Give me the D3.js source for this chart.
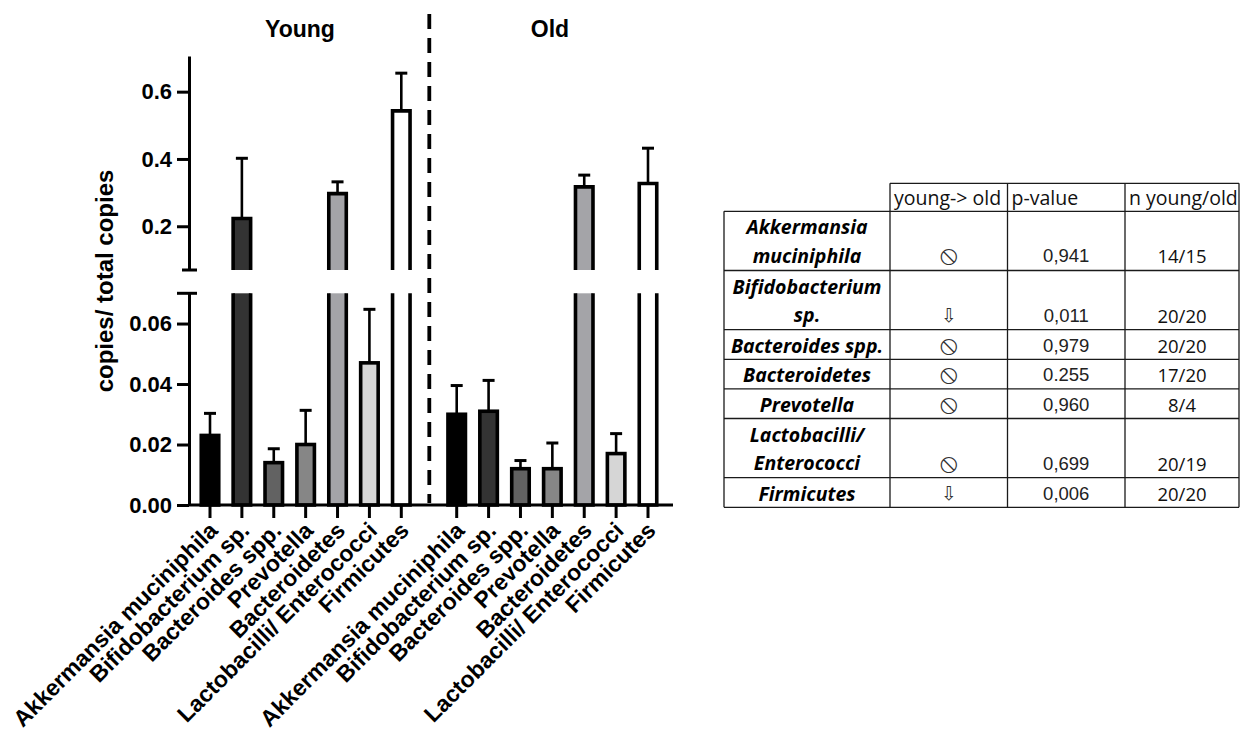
<!DOCTYPE html>
<html>
<head>
<meta charset="utf-8">
<script src="https://cdn.jsdelivr.net/npm/d3@7"></script>
<style>
  html, body { margin: 0; padding: 0; background: #ffffff; }
  svg { display: block; }
  .axis text { font-family: "Liberation Sans", Arial, sans-serif; font-weight: bold; font-size: 22px; fill: #000; }
</style>
</head>
<body>
<svg id="chart" width="1245" height="738"></svg>
<script>
// ---- data ----
const categories = [
  "Akkermansia muciniphila", "Bifidobacterium sp.", "Bacteroides spp.",
  "Prevotella", "Bacteroidetes", "Lactobacilli/ Enterococci", "Firmicutes"
];
const groups = ["Young", "Old"];
const youngMean = [0.023, 0.223, 0.014, 0.020, 0.297, 0.047, 0.543];
const youngErr  = [0.0073, 0.179, 0.0046, 0.0113, 0.035, 0.0177, 0.112];
const oldMean   = [0.030, 0.031, 0.012, 0.012, 0.317, 0.017, 0.327];
const oldErr    = [0.0095, 0.0102, 0.0027, 0.0085, 0.035, 0.0066, 0.105];
const barColors = ["#000000", "#333333", "#626262", "#868686", "#a4a4a8", "#d6d6d6", "#ffffff"];
const lowTicks  = [0, 0.02, 0.04, 0.06];
const highTicks = [0.2, 0.4, 0.6];
const axisBreak = 0.07;

// summary table
const tableHeaders = ["young-> old", "p-value", "n young/old"];
const tableTaxa = [
  ["Akkermansia", "muciniphila"], ["Bifidobacterium", "sp."], ["Bacteroides spp."],
  ["Bacteroidetes"], ["Prevotella"], ["Lactobacilli/", "Enterococci"], ["Firmicutes"]
];
const trend   = ["none", "down", "none", "none", "none", "none", "down"];
const pValues = ["0,941", "0,011", "0,979", "0.255", "0,960", "0,699", "0,006"];
const nCounts = ["14/15", "20/20", "20/20", "17/20", "8/4", "20/19", "20/20"];
const trendSymbol = { none: "\u29B8", down: "\u21E9" };
const trendSize = { none: 27, down: 19 };

// ---- chart ----
const svg = d3.select("#chart");
const axisX = 189, baseY = 505;

// broken y axis: lower and upper segments
const yLow  = d3.scaleLinear().domain([0, axisBreak]).range([baseY, 293.3]);
const yHigh = d3.scaleLinear().domain([axisBreak, 0.706]).range([270, 56]);

// one point scale per group
const xYoung = d3.scalePoint().domain(categories).range([210, 401.3]);
const xOld   = d3.scalePoint().domain(categories).range([456.7, 648]);

const series = [
  { name: groups[0], x: xYoung, mean: youngMean, err: youngErr },
  { name: groups[1], x: xOld,   mean: oldMean,   err: oldErr }
];

const barW = 17.5, strokeW = 3.6, capW = 12;

const yOf = v => v <= axisBreak ? yLow(v) : yHigh(v);

series.forEach(s => {
  const g = svg.append("g");
  categories.forEach((c, i) => {
    const cx = s.x(c), v = s.mean[i], e = s.err[i];
    const x0 = cx - barW / 2, x1 = cx + barW / 2;
    // error bar (behind bar outline)
    const yTop = yOf(v), yErr = yOf(v + e);
    g.append("line").attr("x1", cx).attr("x2", cx).attr("y1", yTop).attr("y2", yErr)
      .attr("stroke", "#000").attr("stroke-width", 2.6);
    g.append("line").attr("x1", cx - capW / 2).attr("x2", cx + capW / 2).attr("y1", yErr).attr("y2", yErr)
      .attr("stroke", "#000").attr("stroke-width", 3);
    if (v <= axisBreak) {
      g.append("rect").attr("x", x0).attr("y", yLow(v)).attr("width", barW).attr("height", baseY - yLow(v))
        .attr("fill", barColors[i]).attr("stroke", "#000").attr("stroke-width", strokeW);
    } else {
      // lower part, open at the break
      const yb = yLow(axisBreak);
      g.append("rect").attr("x", x0).attr("y", yb).attr("width", barW).attr("height", baseY - yb)
        .attr("fill", barColors[i]);
      g.append("path").attr("d", `M${x0},${yb}V${baseY}H${x1}V${yb}`)
        .attr("fill", "none").attr("stroke", "#000").attr("stroke-width", strokeW);
      // upper part, open at the break
      const yt = yHigh(v), ybt = yHigh(axisBreak);
      g.append("rect").attr("x", x0).attr("y", yt).attr("width", barW).attr("height", ybt - yt)
        .attr("fill", barColors[i]);
      g.append("path").attr("d", `M${x0},${ybt}V${yt}H${x1}V${ybt}`)
        .attr("fill", "none").attr("stroke", "#000").attr("stroke-width", strokeW)
        .attr("stroke-linejoin", "miter");
    }
  });
});

// y axes
function styleAxis(sel) {
  sel.select(".domain").attr("stroke", "#000").attr("stroke-width", 3);
  sel.selectAll(".tick line").attr("stroke", "#000").attr("stroke-width", 3);
}
svg.append("g").attr("class", "axis").attr("transform", `translate(${axisX},0)`)
  .call(d3.axisLeft(yLow).tickValues(lowTicks).tickFormat(d3.format(".2f")).tickSize(12).tickSizeOuter(0).tickPadding(5))
  .call(styleAxis);
svg.append("g").attr("class", "axis").attr("transform", `translate(${axisX},0)`)
  .call(d3.axisLeft(yHigh).tickValues(highTicks).tickFormat(d3.format(".1f")).tickSize(12).tickSizeOuter(0).tickPadding(5))
  .call(styleAxis);
// break caps
[[yLow(axisBreak), 12, 8], [yHigh(axisBreak), 7, 8]].forEach(([y, l, r]) => {
  svg.append("line").attr("x1", axisX - l).attr("x2", axisX + r).attr("y1", y).attr("y2", y)
    .attr("stroke", "#000").attr("stroke-width", 3);
});

// x axis
svg.append("line").attr("x1", axisX).attr("x2", 673).attr("y1", baseY).attr("y2", baseY)
  .attr("stroke", "#000").attr("stroke-width", 3);
series.forEach(s => {
  const ax = svg.append("g");
  categories.forEach(c => {
    const cx = s.x(c);
    ax.append("line").attr("x1", cx).attr("x2", cx).attr("y1", baseY).attr("y2", baseY + 13)
      .attr("stroke", "#000").attr("stroke-width", 3);
    ax.append("text")
      .attr("transform", `translate(${cx + 9},${baseY + 27}) rotate(-45)`)
      .attr("text-anchor", "end")
      .style("font-family", '"Liberation Sans", Arial, sans-serif')
      .style("font-weight", "bold").style("font-size", "23px")
      .text(c);
  });
});

// group divider
svg.append("line").attr("x1", 429.3).attr("x2", 429.3).attr("y1", 14).attr("y2", 503)
  .attr("stroke", "#000").attr("stroke-width", 3.8).attr("stroke-dasharray", "15,9");

// group titles
[[groups[0], 300], [groups[1], 550]].forEach(([t, x]) => {
  svg.append("text").attr("x", x).attr("y", 37).attr("text-anchor", "middle")
    .style("font-family", '"Liberation Sans", Arial, sans-serif')
    .style("font-weight", "bold").style("font-size", "23px").text(t);
});

// y label
svg.append("text").attr("transform", "translate(113,281) rotate(-90)")
  .attr("text-anchor", "middle")
  .style("font-family", '"Liberation Sans", Arial, sans-serif')
  .style("font-weight", "bold").style("font-size", "24px")
  .text("copies/ total copies");

// ---- table ----
const colX = [724, 890, 1007.5, 1125, 1239];
const tableTop = 183.3, headerH = 28, lineH = 29.6;
const tg = svg.append("g");
const lineStyle = sel => sel.attr("stroke", "#1a1a1a").attr("stroke-width", 1.3);

// row boundaries
const rowTops = [];
let yCur = tableTop + headerH;
tableTaxa.forEach(t => { rowTops.push(yCur); yCur += lineH * t.length; });
const tableBottom = yCur;

// grid
tg.append("line").attr("x1", colX[1]).attr("x2", colX[4]).attr("y1", tableTop).attr("y2", tableTop).call(lineStyle);
tg.append("line").attr("x1", colX[0]).attr("x2", colX[4]).attr("y1", tableTop + headerH).attr("y2", tableTop + headerH).call(lineStyle);
rowTops.slice(1).concat([tableBottom]).forEach(y => {
  tg.append("line").attr("x1", colX[0]).attr("x2", colX[4]).attr("y1", y).attr("y2", y).call(lineStyle);
});
colX.forEach((x, i) => {
  tg.append("line").attr("x1", x).attr("x2", x)
    .attr("y1", i === 0 ? tableTop + headerH : tableTop).attr("y2", tableBottom).call(lineStyle);
});

tableHeaders.forEach((h, i) => {
  tg.append("text").attr("x", colX[i + 1] + 4).attr("y", tableTop + 22)
    .style("font-family", '"Open Sans", sans-serif').style("font-size", "19.5px").style("fill", "#111")
    .text(h);
});

tableTaxa.forEach((lines, r) => {
  const top = rowTops[r];
  const cx0 = (colX[0] + colX[1]) / 2;
  lines.forEach((ln, k) => {
    tg.append("text").attr("x", cx0).attr("y", top + 23 + k * 28.5).attr("text-anchor", "middle")
      .style("font-family", '"Open Sans", sans-serif').style("font-style", "italic")
      .style("font-weight", "bold").style("font-size", "19.5px").style("fill", "#000")
      .text(ln);
  });
  const by = top + 22 + (lines.length - 1) * 29;
  tg.append("text").attr("x", (colX[1] + colX[2]) / 2).attr("y", by + (trend[r] === "none" ? 2 : 0))
    .attr("text-anchor", "middle")
    .style("font-family", '"DejaVu Sans", sans-serif').style("font-size", trendSize[trend[r]] + "px")
    .style("fill", "#333")
    .text(trendSymbol[trend[r]]);
  tg.append("text").attr("x", (colX[2] + colX[3]) / 2).attr("y", by).attr("text-anchor", "middle")
    .style("font-family", '"Liberation Sans", Arial, sans-serif').style("font-size", "18.5px").style("fill", "#222")
    .text(pValues[r]);
  tg.append("text").attr("x", (colX[3] + colX[4]) / 2).attr("y", by + 1).attr("text-anchor", "middle")
    .style("font-family", '"Open Sans", sans-serif').style("font-size", "18.5px").style("fill", "#111")
    .text(nCounts[r]);
});
</script>
</body>
</html>
